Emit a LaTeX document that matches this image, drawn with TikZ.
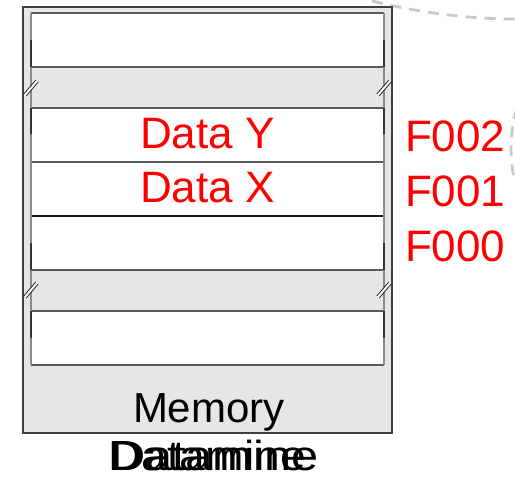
\documentclass[tikz,border=0pt]{standalone}
\usepackage{fontspec}
\setmainfont{Liberation Sans}
\definecolor{bandgray}{RGB}{230,230,230}
\definecolor{edgegray}{RGB}{90,90,90}
\definecolor{dashgray}{RGB}{200,200,200}
\definecolor{memred}{RGB}{255,0,0}
\tikzset{
  rowline/.style={draw=edgegray, line width=1.4pt},
  sideline/.style={draw=edgegray!70, line width=1.4pt},
  sidedark/.style={draw=black!80, line width=1.6pt},
  redtext/.style={text=memred, inner sep=0pt, outer sep=0pt, anchor=base west, font=\fontsize{44}{48}\selectfont},
  blacktext/.style={text=black, inner sep=0pt, outer sep=0pt, anchor=base west, font=\fontsize{42}{46}\selectfont},
  farcircle/.style={draw=dashgray, line width=2.8pt, dash pattern=on 11pt off 8pt},
  breakmark/.style={draw=black!85, line width=0.8pt}
}
\begin{document}
\begin{tikzpicture}[x=1pt,y=-1pt]
\useasboundingbox (0,0) rectangle (515,478);

% dashed outlines of neighbouring shapes, cut by the page edge
\draw[farcircle] (372,1) .. controls (420,13) and (470,19) .. (515,19);
\draw[farcircle] (517,108) .. controls (510,128) and (509,160) .. (515,182);

% memory block
\draw[draw=black!75, fill=bandgray, line width=1.4pt] (23,7) rectangle (392,433);
\fill[white] (31,13) rectangle (384,67);
\fill[white] (31,108) rectangle (384,270);
\fill[white] (31,311) rectangle (384,365);

% row separators
\foreach \yy in {13,67,108,162,270,311,365}
  \draw[rowline] (31,\yy) -- (384,\yy);
\draw[draw=black!90, line width=1.4pt] (31,216) -- (384,216);

% column sides
\foreach \xx in {31,384} {
  \draw[sideline] (\xx,13) -- (\xx,365);
  \draw[sidedark] (\xx,40) -- (\xx,67);
  \draw[sidedark] (\xx,108) -- (\xx,134);
  \draw[sidedark] (\xx,243) -- (\xx,270);
  \draw[sidedark] (\xx,311) -- (\xx,338);
}

% break marks on the sides of the gaps
\foreach \xx in {31,384}
  \foreach \yy in {88,290} {
    \draw[white, line width=2.4pt] (\xx-6,\yy+7) -- (\xx+6,\yy-7);
    \draw[breakmark] (\xx-7.2,\yy+6) -- (\xx+4.8,\yy-8);
    \draw[breakmark] (\xx-4.8,\yy+8) -- (\xx+7.2,\yy-6);
  }

% contents and addresses
\node[redtext] (dy) at (140,149) {Data Y};
\node[redtext] (dx) at (140,203) {Data X};
\node[redtext] (a2) at (405,152) {F002};
\node[redtext] (a1) at (405,207) {F001};
\node[redtext] (a0) at (405,262) {F000};

% captions: the lower label is printed twice, one copy a little wider
\node[blacktext] (mem) at (133,423) {Memory};
\node[blacktext, xscale=1.1] (dm1) at (108,471) {Datamine};
\node[blacktext, xscale=1.16] (dm2) at (110,471) {Datamine};
\end{tikzpicture}
\end{document}
